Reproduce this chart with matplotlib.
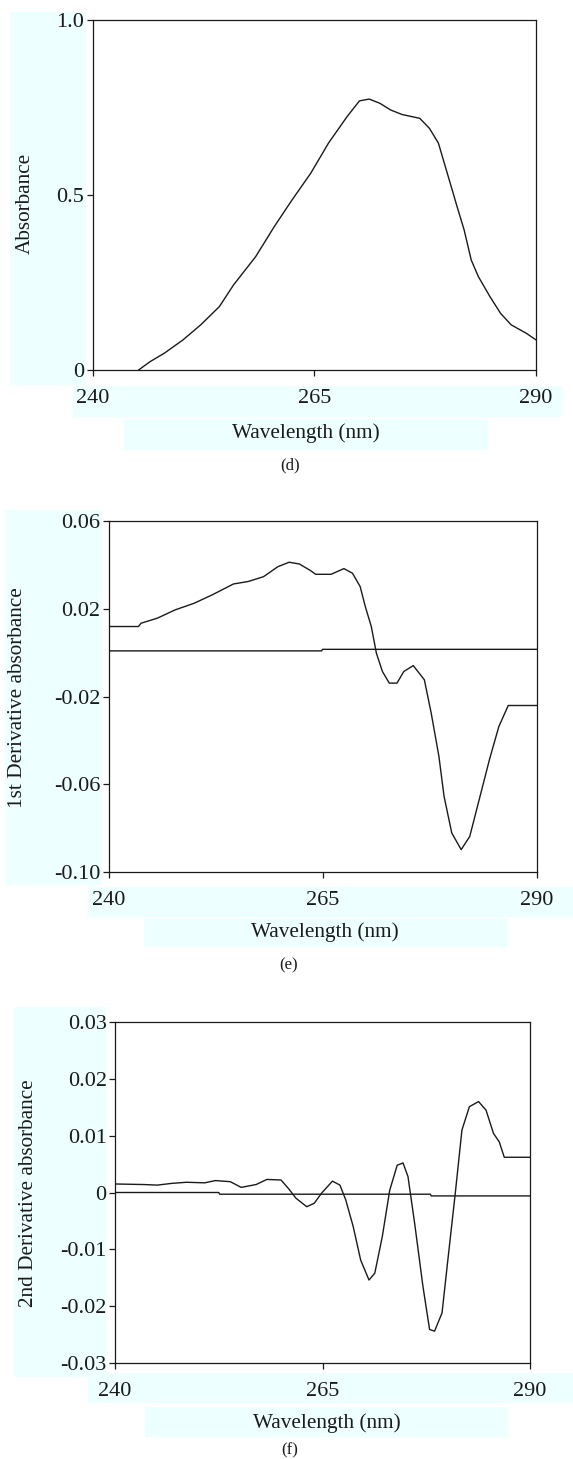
"""Absorbance spectrum with 1st and 2nd derivative panels (d, e, f)."""

import matplotlib

matplotlib.use("Agg")
import matplotlib.pyplot as plt
from matplotlib.patches import Rectangle

# panel (d) absorbance
abs_nm = [245.2, 246.5, 248.1, 250.2, 252.2, 254.3, 255.9, 258.4, 260.5, 262.5,
          264.6, 266.6, 268.7, 270.1, 271.2, 272.4, 273.6, 274.9, 276.9, 278.0,
          279.0, 280.0, 281.1, 281.9, 282.7, 283.5, 284.8, 286.0, 287.2, 288.9, 290.0]
abs_val = [0.0, 0.024, 0.048, 0.086, 0.129, 0.181, 0.243, 0.324, 0.410, 0.486,
           0.562, 0.648, 0.724, 0.769, 0.774, 0.762, 0.743, 0.730, 0.719, 0.690,
           0.648, 0.562, 0.467, 0.400, 0.314, 0.267, 0.210, 0.162, 0.129, 0.105, 0.086]

# panel (e) first derivative
d1_nm = [240.0, 243.5, 243.8, 245.7, 247.8, 250.0, 252.1, 254.6, 256.3, 258.1,
         259.8, 261.1, 262.3, 263.6, 264.2, 266.0, 267.5, 268.5, 269.4, 270.0,
         270.7, 271.3, 272.0, 272.8, 273.7, 274.5, 275.6, 276.9, 277.7, 278.6,
         279.2, 280.1, 281.2, 282.2, 283.3, 284.5, 285.6, 286.7, 290.0]
d1_val = [0.0119, 0.0119, 0.0134, 0.0157, 0.0195, 0.0225, 0.0263, 0.0313, 0.0324, 0.0346,
          0.0392, 0.0412, 0.0404, 0.0374, 0.0357, 0.0357, 0.0383, 0.0362, 0.0301, 0.0210,
          0.0119, -0.0003, -0.0086, -0.0139, -0.0139, -0.0086, -0.0059, -0.0124, -0.0276, -0.0473,
          -0.0655, -0.0822, -0.0898, -0.0838, -0.0671, -0.0488, -0.0337, -0.0241, -0.0241]
d1_base_nm = [240.0, 264.9, 265.0, 290.0]
d1_base_val = [0.0008, 0.0008, 0.0015, 0.0015]

# panel (f) second derivative
d2_nm = [240.0, 243.5, 245.1, 246.8, 248.6, 250.8, 252.1, 253.9, 255.2, 257.0,
         258.3, 260.0, 260.9, 261.8, 263.1, 264.0, 264.9, 266.2, 267.1, 267.8,
         268.7, 269.6, 270.6, 271.3, 272.2, 273.1, 274.0, 274.7, 275.3, 276.1,
         277.1, 277.9, 278.5, 279.4, 280.1, 281.0, 281.8, 282.7, 283.8, 284.7,
         285.6, 286.3, 286.9, 290.0]
d2_val = [0.0015, 0.0014, 0.0013, 0.0016, 0.0018, 0.0017, 0.0021, 0.0019, 0.0009, 0.0014,
          0.0023, 0.0022, 0.0007, -0.0010, -0.0025, -0.0019, -0.0001, 0.0020, 0.0013, -0.0013,
          -0.0060, -0.0119, -0.0154, -0.0142, -0.0078, 0.0004, 0.0048, 0.0052, 0.0028, -0.0054,
          -0.0165, -0.0241, -0.0244, -0.0212, -0.0119, -0.0001, 0.0110, 0.0151, 0.0160, 0.0145,
          0.0104, 0.0089, 0.0062, 0.0062]
d2_base_nm = [240.0, 252.5, 252.6, 278.0, 278.1, 290.0]
d2_base_val = [0.0, 0.0, -0.0003, -0.0003, -0.0006, -0.0006]

x_ticks = [240, 265, 290]
x_tick_labels = ["240", "265", "290"]
d_ticks = [0, 0.5, 1.0]
d_tick_labels = ["0", "0.5", "1.0"]
e_ticks = [0.06, 0.02, -0.02, -0.06, -0.10]
e_tick_labels = ["0.06", "0.02", "-0.02", "-0.06", "-0.10"]
f_ticks = [0.03, 0.02, 0.01, 0, -0.01, -0.02, -0.03]
f_tick_labels = ["0.03", "0.02", "0.01", "0", "-0.01", "-0.02", "-0.03"]

W, H = 573, 1459
FONT = ["Liberation Serif", "DejaVu Serif"]
INK = "#1a1a1a"
CYAN = "#EEFFFF"

plt.rcParams["font.family"] = FONT

fig = plt.figure(figsize=(W / 100, H / 100), dpi=100)


def fx(px):
    return px / W


def fy(py):
    return 1 - py / H


def add_box(x0, y0, x1, y1):
    fig.patches.append(Rectangle((fx(x0), fy(y1)), fx(x1) - fx(x0), fy(y0) - fy(y1),
                                 transform=fig.transFigure, facecolor=CYAN,
                                 edgecolor="none", zorder=-5))


def make_panel(box, ylim, yticks, yticklabels, ylabel, ylab_xy, xlab_xy, caption, cap_xy, bgs):
    for b in bgs:
        add_box(*b)
    left, top, right, bottom = box
    ax = fig.add_axes([fx(left), fy(bottom), fx(right) - fx(left), fy(top) - fy(bottom)])
    ax.patch.set_alpha(0)
    ax.set_xlim(240, 290)
    ax.set_ylim(*ylim)
    ax.set_xticks(x_ticks)
    ax.set_xticklabels(x_tick_labels)
    ax.set_yticks(yticks)
    ax.set_yticklabels(yticklabels)
    ax.tick_params(direction="out", length=4.5, width=0.9, color=INK, labelsize=16,
                   labelcolor=INK)
    ax.tick_params(axis="x", pad=9)
    ax.tick_params(axis="y", pad=1.5)
    for s in ax.spines.values():
        s.set_linewidth(0.9)
        s.set_color(INK)
    fig.text(fx(ylab_xy[0]), fy(ylab_xy[1]), ylabel, rotation=90, ha="center",
             va="center", fontsize=15.3, color=INK)
    fig.text(fx(xlab_xy[0]), fy(xlab_xy[1]), "Wavelength (nm)", ha="center",
             va="center", fontsize=15.3, color=INK)
    fig.text(fx(cap_xy[0]), fy(cap_xy[1]), caption, ha="center", va="center",
             fontsize=12, color=INK)
    return ax


ax_d = make_panel((92.5, 20, 536, 370), (0, 1.0), d_ticks, d_tick_labels, "Absorbance",
                  (25, 203), (306, 433), "(d)", (290, 465),
                  [(10, 12, 86, 385), (73, 386, 563, 417), (124, 419, 488, 450)])
ax_d.plot(abs_nm, abs_val, color=INK, lw=1.0)

ax_e = make_panel((108.5, 521, 536.5, 872), (-0.10, 0.06), e_ticks, e_tick_labels,
                  "1st Derivative absorbance", (18, 698), (325, 932), "(e)", (289, 965),
                  [(5, 510, 102, 885), (88, 887, 573, 917), (144, 918, 508, 947)])
ax_e.plot(d1_nm, d1_val, color=INK, lw=1.0)
ax_e.plot(d1_base_nm, d1_base_val, color=INK, lw=1.0)

ax_f = make_panel((115, 1022, 530, 1363), (-0.03, 0.03), f_ticks, f_tick_labels,
                  "2nd Derivative absorbance", (28.5, 1193), (327, 1423), "(f)", (290, 1450),
                  [(14, 1007, 106, 1377), (88, 1373, 573, 1403), (145, 1407, 509, 1437)])
ax_f.plot(d2_nm, d2_val, color=INK, lw=1.0)
ax_f.plot(d2_base_nm, d2_base_val, color=INK, lw=1.0)

fig.savefig("out.png", dpi=100)
plt.close(fig)
